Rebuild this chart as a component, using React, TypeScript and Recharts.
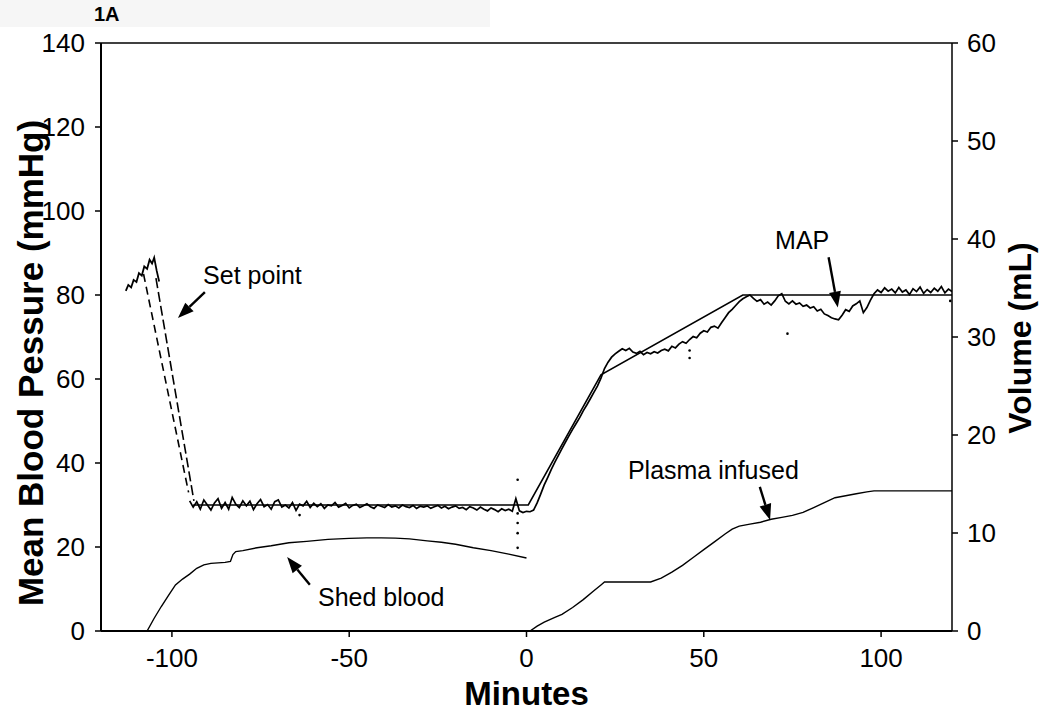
import React from 'react';
import { ComposedChart, Line, Scatter, XAxis, YAxis, ReferenceLine, ReferenceDot } from 'recharts';

const FONT = '"Liberation Sans", Arial, Helvetica, sans-serif';

// Axis ticks
const MINUTE_TICKS = [-100, -50, 0, 50, 100];
const PRESSURE_TICKS = [0, 20, 40, 60, 80, 100, 120, 140];
const VOLUME_TICKS = [0, 10, 20, 30, 40, 50, 60];

// Set point (mmHg)
const setDropT = [-104.5, -93.8];
const setDropV = [84, 31];
const setHoldT = [-94, 0.5, 21, 61, 120];
const setHoldV = [30, 30, 61, 80, 80];

// MAP (mmHg) – rise before hemorrhage and descent
const mapPeakT = [-113, -112.3, -111.5, -110.8, -110, -109.3, -108.5, -107.8, -107, -106.3, -105.6, -105, -104.3, -103.6];
const mapPeakV = [81, 82.4, 81.8, 83.6, 83.1, 85.2, 84.6, 86.8, 86.2, 88.4, 87.5, 88.9, 85.8, 83.2];
const mapDropT = [-108, -95.3];
const mapDropV = [85, 33];

// MAP (mmHg), one reading per minute from -95 to 0
const MAP_PLATEAU_START = -95;
const mapPlateau = [
  31, 29.5, 30.8, 29, 31.2, 30, 28.8, 30.5, 31.5, 29.2,
  30.6, 29, 31.8, 30.2, 29.4, 31, 29.8, 30.9, 28.9, 30.3,
  31.3, 29.6, 30.1, 29, 30.8, 31.2, 29.5, 30, 29.3, 30.6,
  28.7, 30.2, 29.8, 30.9, 29.4, 30.4,
  29.6, 30.3, 29.2, 30, 29.8, 30.6, 29.5, 29.9, 30.4, 29.3,
  29.9, 30.2, 29.4, 29.8, 30.3, 29.6, 29.2, 30, 29.7, 29.4,
  30.1, 29.5, 29.8, 29.3, 30, 29.6, 29.4, 29.9, 29.2, 29.7,
  29.5, 29.8, 29.2, 29.6, 29.9, 29.3, 29.7, 29.1, 29.5, 29.8,
  29.2, 29.4, 28.9, 29.6, 29.3, 28.8, 29.5, 29, 28.6, 29.3,
  28.9, 28.4, 29.1, 28.7, 29, 28.5, 31.5, 28.6, 28.2, 28.5,
];

// MAP (mmHg), one reading per minute from 1 to 120
const MAP_RECOVERY_START = 1;
const mapRecovery = [
  28.4, 28.8, 30.5, 32.6, 34.8, 36.6, 38.5, 40.2, 41.8, 43.4,
  45, 46.5, 48, 49.4, 50.8, 52.4, 53.8, 55.3, 56.8, 58.3,
  60.2, 62.5, 64, 65.2, 66, 66.6, 67.2, 66.8, 67.3, 66.4,
  66.1, 66.6, 65.8, 66.3, 66, 66.5, 66.2, 66.8, 67.1, 66.7,
  67.8, 67.4, 68.3, 68.9, 68.5, 69.4, 70.1, 69.8, 70.9, 71.5,
  71.2, 72.3, 72.6, 72.1, 73.4, 74.6, 75.8, 76.6, 77.5, 78.4,
  79.1, 79.6, 80, 79.2, 78.5, 78.9, 77.8, 78.3, 77.6, 78.6,
  79.8, 80.3, 78.5, 77.9, 78.6, 77.8, 78.1, 77.3, 77.6, 76.9,
  77.2, 76.2, 76.6, 75.5, 75.1, 74.6, 74.3, 74.1, 75.2, 76.5,
  76.1, 77.4, 77.9, 78.6, 75.8, 77, 78.8, 80.3, 81.2, 80.6,
  81.7, 80.9, 81.4, 80.5, 81.8, 80.7, 81.2, 80.1, 81.5, 80.8,
  81.9, 80.4, 81.3, 80.6, 81.6, 80.9, 82, 80.5, 81.4, 80.8,
];

// Stray MAP samples (mmHg)
const strayT = [-2.5, -2.5, -2.5, -2.5, -2.5, -64, 46, 46, 73.6, 119.5];
const strayV = [36, 28, 25.7, 23.3, 19.8, 27.6, 66.8, 65, 70.8, 78.6];

// Shed blood (mL)
const shedT = [-107, -105, -103, -101, -99, -97, -95, -93, -91, -89, -87, -85, -83.5, -82.8, -82, -80, -76, -72, -67, -62, -56, -50, -45, -41, -37, -33, -28, -24, -20, -15, -10, -5, 0];
const shedV = [0, 1.3, 2.5, 3.6, 4.7, 5.3, 5.8, 6.4, 6.75, 6.9, 6.95, 7.0, 7.1, 7.8, 8.1, 8.2, 8.5, 8.7, 9.0, 9.15, 9.35, 9.45, 9.5, 9.5, 9.48, 9.4, 9.2, 9.05, 8.85, 8.5, 8.2, 7.85, 7.45];

// Plasma infused (mL)
const plasmaT = [1, 3, 5, 8, 10, 13, 16, 19, 21, 22, 28, 35, 38, 41, 44, 47, 50, 53, 56, 58, 60, 63, 66, 69, 72, 75, 78, 81, 84, 87, 90, 93, 96, 98, 120];
const plasmaV = [0, 0.5, 0.9, 1.4, 1.7, 2.4, 3.2, 4.1, 4.7, 5.0, 5.0, 5.0, 5.4, 6.0, 6.7, 7.5, 8.3, 9.1, 9.9, 10.4, 10.7, 10.9, 11.1, 11.4, 11.6, 11.8, 12.1, 12.6, 13.1, 13.6, 13.8, 14.0, 14.2, 14.3, 14.3];

// Annotations (minutes, mmHg)
const labelTexts = ['Set point', 'MAP', 'Plasma infused', 'Shed blood'];
const labelT = [-91.2, 70.1, 28.6, -58.8];
const labelV = [84.8, 93.1, 38.3, 8.1];
const arrowFromT = [-90.7, 85.2, 65.8, -61.1];
const arrowFromV = [80.7, 89, 34.3, 11];
const arrowToT = [-98.3, 87.8, 68.7, -67.5];
const arrowToV = [74.5, 77, 26.4, 17.6];

const pts = (ts: number[], vs: number[]) => ts.map((t, i) => ({ t, v: vs[i] }));
const seq = (start: number, vs: number[]) => vs.map((v, i) => ({ t: start + i, v }));

const setDrop = pts(setDropT, setDropV);
const setHold = pts(setHoldT, setHoldV);
const mapPeak = pts(mapPeakT, mapPeakV);
const mapDrop = pts(mapDropT, mapDropV);
const mapMain = [...seq(MAP_PLATEAU_START, mapPlateau), ...seq(MAP_RECOVERY_START, mapRecovery)];
const stray = pts(strayT, strayV);
const shed = pts(shedT, shedV);
const plasma = pts(plasmaT, plasmaV);

const ArrowShape = (props: any) => {
  const { x1, y1, x2, y2 } = props;
  const dx = x2 - x1;
  const dy = y2 - y1;
  const len = Math.sqrt(dx * dx + dy * dy) || 1;
  const ux = dx / len;
  const uy = dy / len;
  const headLen = 16;
  const half = 6;
  const bx = x2 - ux * headLen;
  const by = y2 - uy * headLen;
  const px = -uy;
  const py = ux;
  return (
    <g>
      <line x1={x1} y1={y1} x2={bx} y2={by} stroke="#000" strokeWidth={2.4} />
      <polygon
        points={`${x2},${y2} ${bx + px * half},${by + py * half} ${bx - px * half},${by - py * half}`}
        fill="#000"
      />
    </g>
  );
};

const makeTextShape = (text: string) => (props: any) => (
  <text
    x={props.cx}
    y={props.cy}
    fontSize={25}
    fontFamily={FONT}
    fill="#000"
    dominantBaseline="central"
  >
    {text}
  </text>
);

const LeftLabel = (props: any) => {
  const vb = props.viewBox || { x: 0, y: 43, width: 101, height: 588 };
  const x = vb.x + 30;
  const y = vb.y + vb.height / 2 + 26;
  return (
    <text
      x={x}
      y={y}
      transform={`rotate(-90, ${x}, ${y})`}
      textAnchor="middle"
      dominantBaseline="central"
      fontSize={35}
      fontWeight="bold"
      fontFamily={FONT}
      fill="#000"
    >
      Mean Blood Pessure (mmHg)
    </text>
  );
};

const RightLabel = (props: any) => {
  const vb = props.viewBox || { x: 952, y: 43, width: 98, height: 588 };
  const x = vb.x + 68;
  const y = vb.y + vb.height / 2 + 1;
  return (
    <text
      x={x}
      y={y}
      transform={`rotate(-90, ${x}, ${y})`}
      textAnchor="middle"
      dominantBaseline="central"
      fontSize={32}
      fontWeight="bold"
      fontFamily={FONT}
      fill="#000"
    >
      Volume (mL)
    </text>
  );
};

const BottomLabel = (props: any) => {
  const vb = props.viewBox || { x: 101, y: 631, width: 851, height: 90 };
  return (
    <text
      x={vb.x + vb.width / 2}
      y={vb.y + 62}
      textAnchor="middle"
      dominantBaseline="central"
      fontSize={33}
      fontWeight="bold"
      fontFamily={FONT}
      fill="#000"
    >
      Minutes
    </text>
  );
};

const tickStyle = { fill: '#000', fontSize: 26, fontFamily: FONT };

export default function App() {
  return (
    <div style={{ position: 'absolute', left: 0, top: 0, width: 1050, height: 721, background: '#fff', overflow: 'hidden' }}>
      <div style={{ position: 'absolute', left: 0, top: 0, width: 490, height: 27, background: '#f6f6f6' }} />
      <div
        style={{
          position: 'absolute',
          left: 94,
          top: 3,
          fontFamily: FONT,
          fontWeight: 'bold',
          fontSize: 20,
          lineHeight: '22px',
          color: '#000',
        }}
      >
        1A
      </div>
      <div style={{ position: 'absolute', left: 0, top: 0 }}>
        <ComposedChart width={1050} height={721} margin={{ top: 43, right: 0, bottom: 0, left: 0 }}>
          <XAxis
            dataKey="t"
            type="number"
            domain={[-120, 120]}
            ticks={MINUTE_TICKS}
            allowDataOverflow
            height={90}
            tick={tickStyle}
            tickSize={6}
            tickMargin={12}
            axisLine={{ stroke: '#000', strokeWidth: 2 }}
            tickLine={{ stroke: '#000', strokeWidth: 1.5 }}
            label={<BottomLabel />}
          />
          <YAxis
            yAxisId="left"
            orientation="left"
            type="number"
            domain={[0, 140]}
            ticks={PRESSURE_TICKS}
            allowDataOverflow
            width={101}
            tick={tickStyle}
            tickSize={6}
            tickMargin={10}
            axisLine={{ stroke: '#000', strokeWidth: 2 }}
            tickLine={{ stroke: '#000', strokeWidth: 1.5 }}
            label={<LeftLabel />}
          />
          <YAxis
            yAxisId="right"
            orientation="right"
            type="number"
            domain={[0, 60]}
            ticks={VOLUME_TICKS}
            allowDataOverflow
            width={98}
            tick={{ ...tickStyle, textAnchor: 'start' }}
            tickSize={6}
            tickMargin={9}
            axisLine={{ stroke: '#000', strokeWidth: 1.5 }}
            tickLine={{ stroke: '#000', strokeWidth: 1.5 }}
            label={<RightLabel />}
          />
          <ReferenceLine yAxisId="left" y={140} stroke="#000" strokeWidth={1.5} />

          <Line yAxisId="right" data={shed} dataKey="v" type="linear" stroke="#000" strokeWidth={1.4} dot={false} activeDot={false} isAnimationActive={false} />
          <Line yAxisId="right" data={plasma} dataKey="v" type="linear" stroke="#000" strokeWidth={1.4} dot={false} activeDot={false} isAnimationActive={false} />

          <Line yAxisId="left" data={setDrop} dataKey="v" type="linear" stroke="#000" strokeWidth={1.6} strokeDasharray="10 4" dot={false} activeDot={false} isAnimationActive={false} />
          <Line yAxisId="left" data={setHold} dataKey="v" type="linear" stroke="#000" strokeWidth={1.6} dot={false} activeDot={false} isAnimationActive={false} />

          <Line yAxisId="left" data={mapPeak} dataKey="v" type="linear" stroke="#000" strokeWidth={1.8} dot={false} activeDot={false} isAnimationActive={false} />
          <Line yAxisId="left" data={mapDrop} dataKey="v" type="linear" stroke="#000" strokeWidth={1.6} strokeDasharray="8 5" dot={false} activeDot={false} isAnimationActive={false} />
          <Line yAxisId="left" data={mapMain} dataKey="v" type="linear" stroke="#000" strokeWidth={1.7} dot={false} activeDot={false} isAnimationActive={false} />
          <Scatter
            yAxisId="left"
            data={stray}
            dataKey="v"
            fill="#000"
            isAnimationActive={false}
            shape={(p: any) => <circle cx={p.cx} cy={p.cy} r={1.3} fill="#000" />}
          />

          {labelTexts.map((txt, i) => (
            <ReferenceLine
              key={`arrow-${i}`}
              yAxisId="left"
              segment={[
                { x: arrowFromT[i], y: arrowFromV[i] },
                { x: arrowToT[i], y: arrowToV[i] },
              ]}
              shape={ArrowShape}
            />
          ))}
          {labelTexts.map((txt, i) => (
            <ReferenceDot
              key={`label-${i}`}
              yAxisId="left"
              x={labelT[i]}
              y={labelV[i]}
              r={0}
              shape={makeTextShape(txt)}
            />
          ))}
        </ComposedChart>
      </div>
    </div>
  );
}
